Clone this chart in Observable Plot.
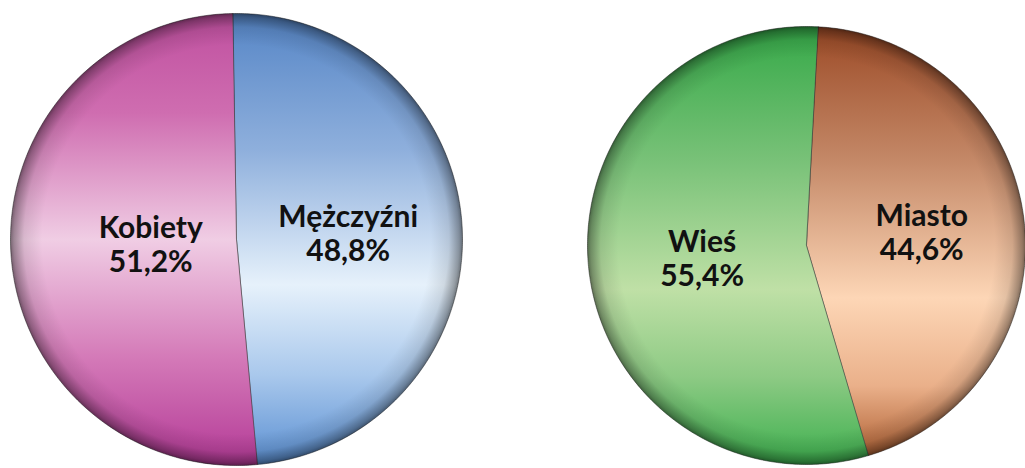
<!DOCTYPE html>
<html>
<head>
<meta charset="utf-8">
<script src="https://cdn.jsdelivr.net/npm/d3@7"></script>
<script src="https://cdn.jsdelivr.net/npm/@observablehq/plot@0.6"></script>
<style>
  html, body { margin: 0; padding: 0; background: #ffffff; }
  #chart { width: 1025px; height: 468px; overflow: hidden; }
</style>
</head>
<body>
<div id="chart"></div>
<script>
// ---- Data ----
const genderCategories = ["Mężczyźni", "Kobiety"];
const genderValues = [48.8, 51.2];
const placeCategories = ["Miasto", "Wieś"];
const placeValues = [44.6, 55.4];

// ---- Layout / style ----
const W = 1025, H = 468;
const pies = [
  { id: "p1", cats: genderCategories, vals: genderValues, cx: 236, cy: 239, r: 226, start: -1,
    labelK: [0.495, 0.38],
    grads: [
      [[0, "#5585c6"], [0.3, "#8eafdc"], [0.6, "#e6f1fb"], [0.8, "#a9c8ec"], [1, "#5a8fd2"]],
      [[0, "#bf4f9f"], [0.22, "#cf6db0"], [0.5, "#f0cde4"], [0.76, "#d47ab8"], [1, "#b43a97"]]
    ] },
  { id: "p2", cats: placeCategories, vals: placeValues, cx: 806, cy: 245, r: 219, start: 3,
    labelK: [0.53, 0.48],
    grads: [
      [[0, "#9c4a26"], [0.3, "#c38766"], [0.62, "#fdd6b6"], [0.82, "#eab08a"], [1, "#a9582a"]],
      [[0, "#35a948"], [0.3, "#77c177"], [0.6, "#bfe0a6"], [0.8, "#8dca84"], [1, "#3db04e"]]
    ] }
];

const rad = d => d * Math.PI / 180;
const marks = [];
const labels = [];
const gradDefs = [];

for (const p of pies) {
  const arcs = d3.pie().sort(null)
    .startAngle(rad(p.start)).endAngle(rad(p.start + 360))(p.vals);
  arcs.forEach((a, i) => {
    const pts = [{ x: p.cx, y: p.cy }];
    const steps = Math.max(2, Math.ceil((a.endAngle - a.startAngle) / rad(0.5)));
    for (let s = 0; s <= steps; s++) {
      const t = a.startAngle + (a.endAngle - a.startAngle) * s / steps;
      pts.push({ x: p.cx + p.r * Math.sin(t), y: p.cy - p.r * Math.cos(t) });
    }
    const gid = `g-${p.id}-${i}`;
    gradDefs.push({ id: gid, y1: p.cy - p.r, y2: p.cy + p.r, stops: p.grads[i] });
    marks.push(Plot.line(pts, {
      x: "x", y: "y", curve: "linear-closed",
      fill: `url(#${gid})`, stroke: "#2e2e2e", strokeOpacity: 0.55, strokeWidth: 1
    }));
    const mid = (a.startAngle + a.endAngle) / 2;
    const k = p.labelK[i] * p.r;
    labels.push({
      x: p.cx + k * Math.sin(mid),
      y: p.cy - k * Math.cos(mid),
      text: `${p.cats[i]}\n${p.vals[i].toFixed(1).replace(".", ",")}%`
    });
  });
  marks.push(Plot.dot([{ x: p.cx, y: p.cy }], { x: "x", y: "y", r: p.r, fill: "url(#rim)", stroke: null }));
}

marks.push(Plot.text(labels, {
  x: "x", y: "y", text: "text",
  fontSize: 30, fontWeight: "bold", fontFamily: "Lato, 'Open Sans', sans-serif",
  lineHeight: 1.13, fill: "#111111", textAnchor: "middle"
}));

const chart = Plot.plot({
  width: W, height: H, margin: 0,
  x: { domain: [0, W], range: [0, W], axis: null },
  y: { domain: [0, H], range: [0, H], axis: null },
  style: { background: "#ffffff", overflow: "hidden" },
  marks
});

const defs = d3.select(chart).insert("defs", ":first-child");
for (const g of gradDefs) {
  const lg = defs.append("linearGradient").attr("id", g.id)
    .attr("gradientUnits", "userSpaceOnUse")
    .attr("x1", 0).attr("x2", 0).attr("y1", g.y1).attr("y2", g.y2);
  for (const [o, c] of g.stops) lg.append("stop").attr("offset", o).attr("stop-color", c);
}
const rg = defs.append("radialGradient").attr("id", "rim")
  .attr("cx", 0.5).attr("cy", 0.5).attr("r", 0.5);
[[0, "#000", 0], [0.86, "#000", 0], [0.94, "#000", 0.1], [0.985, "#000", 0.35], [1, "#000", 0.5]]
  .forEach(([o, c, op]) => rg.append("stop").attr("offset", o).attr("stop-color", c).attr("stop-opacity", op));

document.getElementById("chart").appendChild(chart);
</script>
</body>
</html>
